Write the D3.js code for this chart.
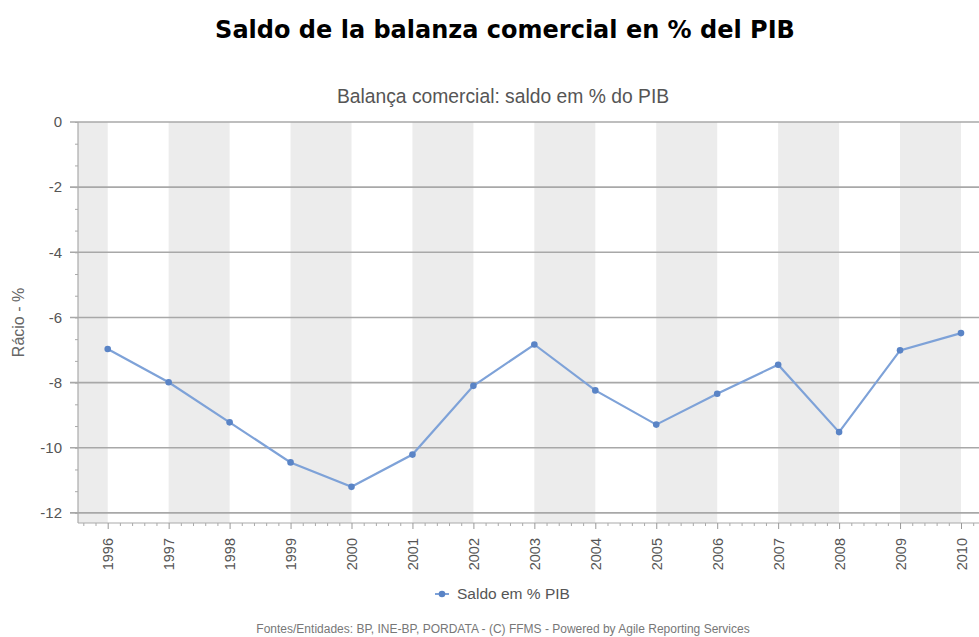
<!DOCTYPE html>
<html>
<head>
<meta charset="utf-8">
<script src="https://cdn.jsdelivr.net/npm/d3@7"></script>
<style>
  html, body { margin: 0; padding: 0; background: #fff; }
  svg { display: block; }
</style>
</head>
<body>
<svg id="chart" width="979" height="637"></svg>
<script>
// ---- data ----
const years = [1996, 1997, 1998, 1999, 2000, 2001, 2002, 2003, 2004, 2005, 2006, 2007, 2008, 2009, 2010];
const saldo = [-6.97, -7.99, -9.22, -10.45, -11.2, -10.21, -8.1, -6.83, -8.24, -9.29, -8.34, -7.45, -9.52, -7.01, -6.48];
const yTicks = [0, -2, -4, -6, -8, -10, -12];
const title = "Saldo de la balanza comercial en % del PIB";
const subtitle = "Balança comercial: saldo em % do PIB";
const yLabel = "Rácio - %";
const seriesName = "Saldo em % PIB";
const footer = "Fontes/Entidades: BP, INE-BP, PORDATA - (C) FFMS - Powered by Agile Reporting Services";

// ---- layout ----
const svg = d3.select("#chart");
const plotLeft = 78, plotTop = 122, plotBottom = 523;
const x = d3.scalePoint().domain(years).range([107.7, 961]);
const step = x.step();
const plotRight = x(years[years.length - 1]) + step / 2;
const y = d3.scaleLinear().domain([-12.31, 0]).range([plotBottom, plotTop]);
const hyphenFmt = d => String(d).replace("\u2212", "-");

// title
svg.append("text").attr("x", 505).attr("y", 38).attr("text-anchor", "middle")
  .style("font-family", "'DejaVu Sans', Verdana, sans-serif").style("font-weight", "bold")
  .style("font-size", "24px").attr("fill", "#000").text(title);

// subtitle
svg.append("text").attr("x", 503).attr("y", 103).attr("text-anchor", "middle")
  .style("font-family", "'Liberation Sans', Arial, sans-serif")
  .style("font-size", "19.3px").attr("fill", "#555").text(subtitle);

// plot background bands
const bandData = [{x0: plotLeft, x1: x(years[0])}];
years.forEach((yr, i) => {
  if (i % 2 === 1 && i + 1 < years.length) bandData.push({x0: x(yr), x1: x(years[i + 1])});
});
svg.append("g").selectAll("rect").data(bandData).join("rect")
  .attr("x", d => d.x0).attr("width", d => d.x1 - d.x0)
  .attr("y", plotTop).attr("height", plotBottom - plotTop)
  .attr("fill", "#ececec");

// gridlines
svg.append("g").selectAll("line").data(yTicks).join("line")
  .attr("x1", 70).attr("x2", plotRight)
  .attr("y1", d => y(d)).attr("y2", d => y(d))
  .attr("stroke", "#a8a8a8").attr("stroke-width", 1.6);

// y axis
const yMinor = d3.range(0, -12.31, -2 / 3);
const yAxisMinor = d3.axisLeft(y).tickValues(yMinor).tickSize(3).tickFormat("");
svg.append("g").attr("transform", `translate(${plotLeft},0)`).call(yAxisMinor)
  .call(g => g.select(".domain").remove())
  .call(g => g.selectAll(".tick line").attr("stroke", "#aaa"));
const yAxis = d3.axisLeft(y).tickValues(yTicks).tickSize(0).tickPadding(16).tickFormat(hyphenFmt);
svg.append("g").attr("transform", `translate(${plotLeft},0)`).call(yAxis)
  .call(g => g.select(".domain").remove())
  .call(g => g.selectAll(".tick text")
    .style("font-family", "'Liberation Sans', Arial, sans-serif")
    .style("font-size", "15px").attr("fill", "#555"));
svg.append("line").attr("x1", plotLeft).attr("x2", plotLeft).attr("y1", plotTop).attr("y2", plotBottom)
  .attr("stroke", "#aaa").attr("stroke-width", 1.2);

// x axis
svg.append("line").attr("x1", plotLeft).attr("x2", plotRight).attr("y1", plotBottom).attr("y2", plotBottom)
  .attr("stroke", "#aaa").attr("stroke-width", 1.2);
const xl = d3.scaleLinear().domain([0, years.length - 1]).range([x(years[0]), x(years[years.length - 1])]);
const minorIdx = d3.range(-0.4, years.length - 0.5, 0.2).filter(v => Math.abs(v - Math.round(v)) > 0.01);
svg.append("g").attr("transform", `translate(0,${plotBottom})`)
  .call(d3.axisBottom(xl).tickValues(minorIdx).tickSize(3).tickFormat(""))
  .call(g => g.select(".domain").remove())
  .call(g => g.selectAll(".tick line").attr("stroke", "#aaa"));
const xAxis = d3.axisBottom(x).tickSize(6);
svg.append("g").attr("transform", `translate(0,${plotBottom})`).call(xAxis)
  .call(g => g.select(".domain").remove())
  .call(g => g.selectAll(".tick line").attr("stroke", "#999"))
  .call(g => g.selectAll(".tick text")
    .attr("transform", "rotate(-90)")
    .attr("x", -15).attr("y", 0).attr("dy", "0.35em")
    .attr("text-anchor", "end")
    .style("font-family", "'Liberation Sans', Arial, sans-serif")
    .style("font-size", "14.5px").attr("fill", "#555"));

// y axis title
svg.append("text").attr("transform", `translate(24,${(plotTop + plotBottom) / 2}) rotate(-90)`)
  .attr("text-anchor", "middle")
  .style("font-family", "'Liberation Sans', Arial, sans-serif")
  .style("font-size", "16px").attr("fill", "#666").text(yLabel);

// series
const data = years.map((yr, i) => ({year: yr, value: saldo[i]}));
svg.append("path").datum(data)
  .attr("fill", "none").attr("stroke", "#7ea2d8").attr("stroke-width", 2.2)
  .attr("d", d3.line().x(d => x(d.year)).y(d => y(d.value)));
svg.append("g").selectAll("circle").data(data).join("circle")
  .attr("cx", d => x(d.year)).attr("cy", d => y(d.value)).attr("r", 3.3)
  .attr("fill", "#5a84c6");

// legend
const lg = svg.append("g").attr("transform", "translate(435,594)");
lg.append("line").attr("x1", 0).attr("x2", 14).attr("stroke", "#7ea2d8").attr("stroke-width", 2);
lg.append("circle").attr("cx", 7).attr("r", 3.3).attr("fill", "#5a84c6");
lg.append("text").attr("x", 22).attr("y", 0).attr("dy", "0.35em")
  .style("font-family", "'Liberation Sans', Arial, sans-serif")
  .style("font-size", "15.5px").attr("fill", "#555").text(seriesName);

// footer
svg.append("text").attr("x", 503).attr("y", 633).attr("text-anchor", "middle")
  .style("font-family", "'Liberation Sans', Arial, sans-serif")
  .style("font-size", "12px").attr("fill", "#777").text(footer);
</script>
</body>
</html>
